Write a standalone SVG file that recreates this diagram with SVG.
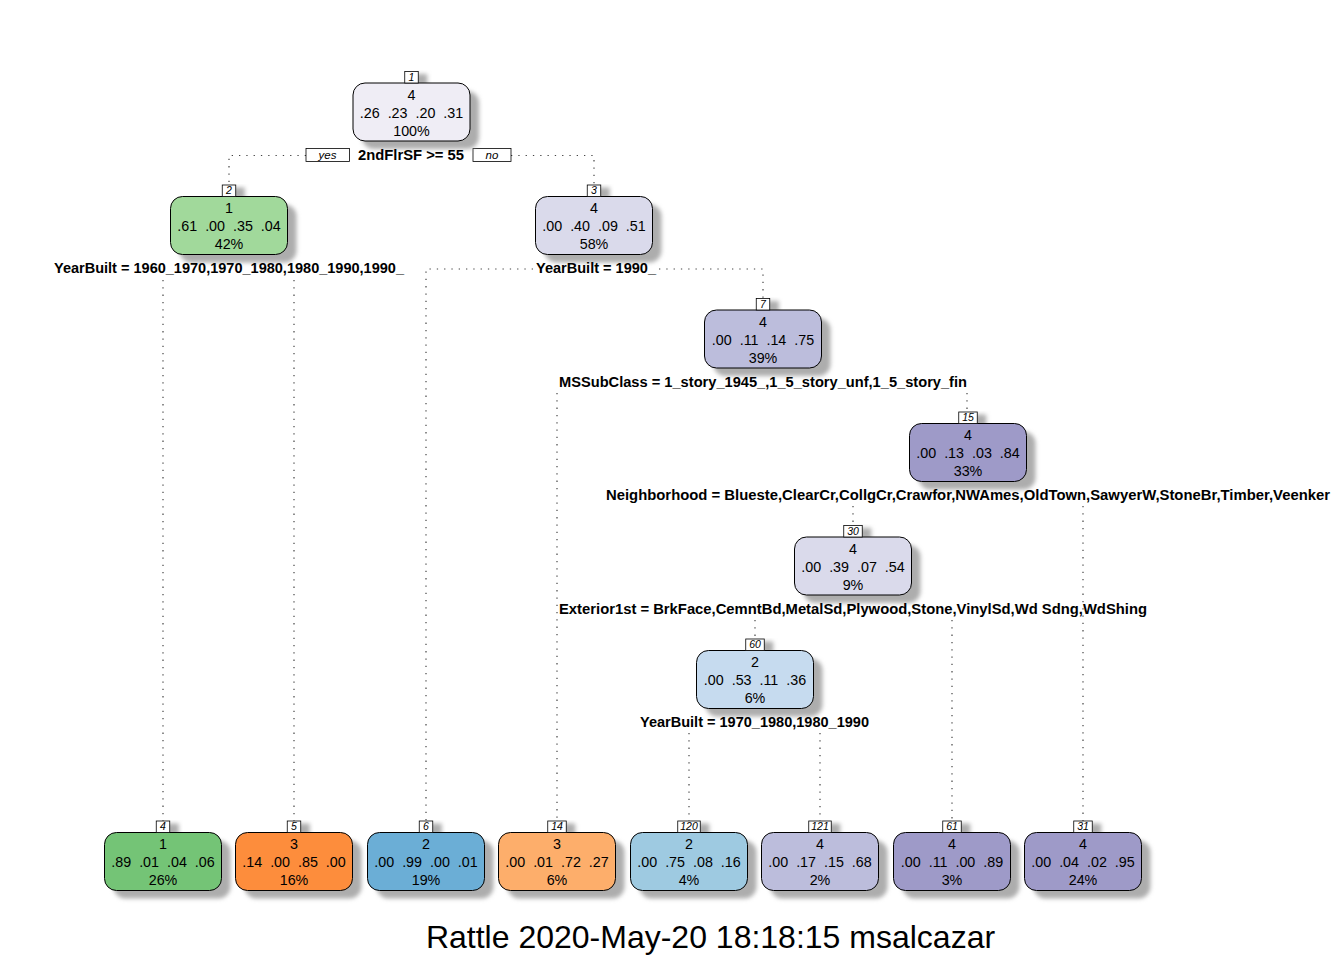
<svg xmlns="http://www.w3.org/2000/svg" width="1344" height="960" viewBox="0 0 1344 960">
<style>
.bg{fill:#ffffff}
.sh{fill:#adadad;filter:url(#blur)}
.box{stroke:#000;stroke-width:1}
.lab{fill:#fff;stroke:#000;stroke-width:0.8}
.nl{font-family:"Liberation Sans",Arial,sans-serif;font-style:italic;font-size:10.5px;text-anchor:middle;fill:#000}
.t{font-family:"Liberation Sans",Arial,sans-serif;font-size:14.3px;text-anchor:middle;fill:#000}
.split{font-family:"Liberation Sans",Arial,sans-serif;font-weight:bold;font-size:14.5px;text-anchor:middle;fill:#000}
.con{fill:none;stroke:#444;stroke-width:1.2;stroke-dasharray:1.3 6}
.yn{fill:#fff;stroke:#000;stroke-width:0.8}
.ynt{font-family:"Liberation Sans",Arial,sans-serif;font-style:italic;font-size:11.5px;text-anchor:middle;fill:#000}
.title{font-family:"Liberation Sans",Arial,sans-serif;font-size:32px;text-anchor:middle;fill:#000}
</style>
<defs>
<filter id="blur" x="-30%" y="-30%" width="160%" height="160%"><feGaussianBlur stdDeviation="2"/></filter>
</defs>
<rect class="bg" x="0" y="0" width="1344" height="960"/>
<g id="connectors">
<path class="con" d="M306,155.5 H229 V184.5"/>
<path class="con" d="M511,155.5 H594 V185"/>
<path class="con" d="M163,280 V821"/>
<path class="con" d="M294,280 V821"/>
<path class="con" d="M533,269 H426 V821"/>
<path class="con" d="M659,269 H763 V298.5"/>
<path class="con" d="M557,393 V821"/>
<path class="con" d="M967,393 V412"/>
<path class="con" d="M853,506 V525.5"/>
<path class="con" d="M1083,506 V821"/>
<path class="con" d="M755,620 V639"/>
<path class="con" d="M952,620 V821"/>
<path class="con" d="M689,733 V821"/>
<path class="con" d="M820,733 V821"/>
<rect class="yn" x="306" y="148.5" width="43.5" height="13"/>
<text class="ynt" x="327.5" y="158.5">yes</text>
<rect class="yn" x="473" y="148.5" width="38" height="13"/>
<text class="ynt" x="492" y="158.5">no</text>
</g>
<g id="node1">
<g transform="translate(411.5,83)">
<rect class="sh" x="-49.5" y="8" width="117" height="58" rx="12"/>
<rect class="sh" x="2.25" y="-9" width="13.5" height="11.5"/>
<rect class="box" x="-58.5" y="0" width="117" height="58" rx="12" fill="#EFEDF5"/>
<rect class="lab" x="-6.75" y="-11.5" width="13.5" height="11.5"/>
<text class="nl" x="0" y="-2.3">1</text>
<text class="t" x="0" y="16.5">4</text>
<text class="t" x="0" y="34.5">.26&#160;&#160;.23&#160;&#160;.20&#160;&#160;.31</text>
<text class="t" x="0" y="52.5">100%</text>
</g>
<text class="split" x="411" y="160" textLength="106" lengthAdjust="spacingAndGlyphs">2ndFlrSF &gt;= 55</text>
</g>
<g id="node2">
<g transform="translate(229,196.5)">
<rect class="sh" x="-49.5" y="8" width="117" height="58" rx="12"/>
<rect class="sh" x="2.25" y="-9" width="13.5" height="11.5"/>
<rect class="box" x="-58.5" y="0" width="117" height="58" rx="12" fill="#A1D99B"/>
<rect class="lab" x="-6.75" y="-11.5" width="13.5" height="11.5"/>
<text class="nl" x="0" y="-2.3">2</text>
<text class="t" x="0" y="16.5">1</text>
<text class="t" x="0" y="34.5">.61&#160;&#160;.00&#160;&#160;.35&#160;&#160;.04</text>
<text class="t" x="0" y="52.5">42%</text>
</g>
<text class="split" x="229" y="273" textLength="350" lengthAdjust="spacingAndGlyphs">YearBuilt = 1960_1970,1970_1980,1980_1990,1990_</text>
</g>
<g id="node3">
<g transform="translate(594,196.5)">
<rect class="sh" x="-49.5" y="8" width="117" height="58" rx="12"/>
<rect class="sh" x="2.25" y="-9" width="13.5" height="11.5"/>
<rect class="box" x="-58.5" y="0" width="117" height="58" rx="12" fill="#DADAEB"/>
<rect class="lab" x="-6.75" y="-11.5" width="13.5" height="11.5"/>
<text class="nl" x="0" y="-2.3">3</text>
<text class="t" x="0" y="16.5">4</text>
<text class="t" x="0" y="34.5">.00&#160;&#160;.40&#160;&#160;.09&#160;&#160;.51</text>
<text class="t" x="0" y="52.5">58%</text>
</g>
<text class="split" x="596" y="273" textLength="120" lengthAdjust="spacingAndGlyphs">YearBuilt = 1990_</text>
</g>
<g id="node7">
<g transform="translate(763,310)">
<rect class="sh" x="-49.5" y="8" width="117" height="58" rx="12"/>
<rect class="sh" x="2.25" y="-9" width="13.5" height="11.5"/>
<rect class="box" x="-58.5" y="0" width="117" height="58" rx="12" fill="#BCBDDC"/>
<rect class="lab" x="-6.75" y="-11.5" width="13.5" height="11.5"/>
<text class="nl" x="0" y="-2.3">7</text>
<text class="t" x="0" y="16.5">4</text>
<text class="t" x="0" y="34.5">.00&#160;&#160;.11&#160;&#160;.14&#160;&#160;.75</text>
<text class="t" x="0" y="52.5">39%</text>
</g>
<text class="split" x="763" y="386.5" textLength="408" lengthAdjust="spacingAndGlyphs">MSSubClass = 1_story_1945_,1_5_story_unf,1_5_story_fin</text>
</g>
<g id="node15">
<g transform="translate(968,423.5)">
<rect class="sh" x="-49.5" y="8" width="117" height="58" rx="12"/>
<rect class="sh" x="-0.25" y="-9" width="18.5" height="11.5"/>
<rect class="box" x="-58.5" y="0" width="117" height="58" rx="12" fill="#9E9AC8"/>
<rect class="lab" x="-9.25" y="-11.5" width="18.5" height="11.5"/>
<text class="nl" x="0" y="-2.3">15</text>
<text class="t" x="0" y="16.5">4</text>
<text class="t" x="0" y="34.5">.00&#160;&#160;.13&#160;&#160;.03&#160;&#160;.84</text>
<text class="t" x="0" y="52.5">33%</text>
</g>
<text class="split" x="968" y="500" textLength="724" lengthAdjust="spacingAndGlyphs">Neighborhood = Blueste,ClearCr,CollgCr,Crawfor,NWAmes,OldTown,SawyerW,StoneBr,Timber,Veenker</text>
</g>
<g id="node30">
<g transform="translate(853,537)">
<rect class="sh" x="-49.5" y="8" width="117" height="58" rx="12"/>
<rect class="sh" x="-0.25" y="-9" width="18.5" height="11.5"/>
<rect class="box" x="-58.5" y="0" width="117" height="58" rx="12" fill="#DADAEB"/>
<rect class="lab" x="-9.25" y="-11.5" width="18.5" height="11.5"/>
<text class="nl" x="0" y="-2.3">30</text>
<text class="t" x="0" y="16.5">4</text>
<text class="t" x="0" y="34.5">.00&#160;&#160;.39&#160;&#160;.07&#160;&#160;.54</text>
<text class="t" x="0" y="52.5">9%</text>
</g>
<text class="split" x="853" y="613.5" textLength="588" lengthAdjust="spacingAndGlyphs">Exterior1st = BrkFace,CemntBd,MetalSd,Plywood,Stone,VinylSd,Wd Sdng,WdShing</text>
</g>
<g id="node60">
<g transform="translate(755,650.5)">
<rect class="sh" x="-49.5" y="8" width="117" height="58" rx="12"/>
<rect class="sh" x="-0.25" y="-9" width="18.5" height="11.5"/>
<rect class="box" x="-58.5" y="0" width="117" height="58" rx="12" fill="#C6DBEF"/>
<rect class="lab" x="-9.25" y="-11.5" width="18.5" height="11.5"/>
<text class="nl" x="0" y="-2.3">60</text>
<text class="t" x="0" y="16.5">2</text>
<text class="t" x="0" y="34.5">.00&#160;&#160;.53&#160;&#160;.11&#160;&#160;.36</text>
<text class="t" x="0" y="52.5">6%</text>
</g>
<text class="split" x="754.5" y="727" textLength="229" lengthAdjust="spacingAndGlyphs">YearBuilt = 1970_1980,1980_1990</text>
</g>
<g id="node4" transform="translate(163,832.5)">
<rect class="sh" x="-49.5" y="8" width="117" height="58" rx="12"/>
<rect class="sh" x="2.25" y="-9" width="13.5" height="11.5"/>
<rect class="box" x="-58.5" y="0" width="117" height="58" rx="12" fill="#74C476"/>
<rect class="lab" x="-6.75" y="-11.5" width="13.5" height="11.5"/>
<text class="nl" x="0" y="-2.3">4</text>
<text class="t" x="0" y="16.5">1</text>
<text class="t" x="0" y="34.5">.89&#160;&#160;.01&#160;&#160;.04&#160;&#160;.06</text>
<text class="t" x="0" y="52.5">26%</text>
</g>
<g id="node5" transform="translate(294,832.5)">
<rect class="sh" x="-49.5" y="8" width="117" height="58" rx="12"/>
<rect class="sh" x="2.25" y="-9" width="13.5" height="11.5"/>
<rect class="box" x="-58.5" y="0" width="117" height="58" rx="12" fill="#FD8D3C"/>
<rect class="lab" x="-6.75" y="-11.5" width="13.5" height="11.5"/>
<text class="nl" x="0" y="-2.3">5</text>
<text class="t" x="0" y="16.5">3</text>
<text class="t" x="0" y="34.5">.14&#160;&#160;.00&#160;&#160;.85&#160;&#160;.00</text>
<text class="t" x="0" y="52.5">16%</text>
</g>
<g id="node6" transform="translate(426,832.5)">
<rect class="sh" x="-49.5" y="8" width="117" height="58" rx="12"/>
<rect class="sh" x="2.25" y="-9" width="13.5" height="11.5"/>
<rect class="box" x="-58.5" y="0" width="117" height="58" rx="12" fill="#6BAED6"/>
<rect class="lab" x="-6.75" y="-11.5" width="13.5" height="11.5"/>
<text class="nl" x="0" y="-2.3">6</text>
<text class="t" x="0" y="16.5">2</text>
<text class="t" x="0" y="34.5">.00&#160;&#160;.99&#160;&#160;.00&#160;&#160;.01</text>
<text class="t" x="0" y="52.5">19%</text>
</g>
<g id="node14" transform="translate(557,832.5)">
<rect class="sh" x="-49.5" y="8" width="117" height="58" rx="12"/>
<rect class="sh" x="-0.25" y="-9" width="18.5" height="11.5"/>
<rect class="box" x="-58.5" y="0" width="117" height="58" rx="12" fill="#FDAE6B"/>
<rect class="lab" x="-9.25" y="-11.5" width="18.5" height="11.5"/>
<text class="nl" x="0" y="-2.3">14</text>
<text class="t" x="0" y="16.5">3</text>
<text class="t" x="0" y="34.5">.00&#160;&#160;.01&#160;&#160;.72&#160;&#160;.27</text>
<text class="t" x="0" y="52.5">6%</text>
</g>
<g id="node120" transform="translate(689,832.5)">
<rect class="sh" x="-49.5" y="8" width="117" height="58" rx="12"/>
<rect class="sh" x="-2.25" y="-9" width="22.5" height="11.5"/>
<rect class="box" x="-58.5" y="0" width="117" height="58" rx="12" fill="#9ECAE1"/>
<rect class="lab" x="-11.25" y="-11.5" width="22.5" height="11.5"/>
<text class="nl" x="0" y="-2.3">120</text>
<text class="t" x="0" y="16.5">2</text>
<text class="t" x="0" y="34.5">.00&#160;&#160;.75&#160;&#160;.08&#160;&#160;.16</text>
<text class="t" x="0" y="52.5">4%</text>
</g>
<g id="node121" transform="translate(820,832.5)">
<rect class="sh" x="-49.5" y="8" width="117" height="58" rx="12"/>
<rect class="sh" x="-2.25" y="-9" width="22.5" height="11.5"/>
<rect class="box" x="-58.5" y="0" width="117" height="58" rx="12" fill="#BCBDDC"/>
<rect class="lab" x="-11.25" y="-11.5" width="22.5" height="11.5"/>
<text class="nl" x="0" y="-2.3">121</text>
<text class="t" x="0" y="16.5">4</text>
<text class="t" x="0" y="34.5">.00&#160;&#160;.17&#160;&#160;.15&#160;&#160;.68</text>
<text class="t" x="0" y="52.5">2%</text>
</g>
<g id="node61" transform="translate(952,832.5)">
<rect class="sh" x="-49.5" y="8" width="117" height="58" rx="12"/>
<rect class="sh" x="-0.25" y="-9" width="18.5" height="11.5"/>
<rect class="box" x="-58.5" y="0" width="117" height="58" rx="12" fill="#9E9AC8"/>
<rect class="lab" x="-9.25" y="-11.5" width="18.5" height="11.5"/>
<text class="nl" x="0" y="-2.3">61</text>
<text class="t" x="0" y="16.5">4</text>
<text class="t" x="0" y="34.5">.00&#160;&#160;.11&#160;&#160;.00&#160;&#160;.89</text>
<text class="t" x="0" y="52.5">3%</text>
</g>
<g id="node31" transform="translate(1083,832.5)">
<rect class="sh" x="-49.5" y="8" width="117" height="58" rx="12"/>
<rect class="sh" x="-0.25" y="-9" width="18.5" height="11.5"/>
<rect class="box" x="-58.5" y="0" width="117" height="58" rx="12" fill="#9E9AC8"/>
<rect class="lab" x="-9.25" y="-11.5" width="18.5" height="11.5"/>
<text class="nl" x="0" y="-2.3">31</text>
<text class="t" x="0" y="16.5">4</text>
<text class="t" x="0" y="34.5">.00&#160;&#160;.04&#160;&#160;.02&#160;&#160;.95</text>
<text class="t" x="0" y="52.5">24%</text>
</g>
<text class="title" x="710.5" y="948">Rattle 2020-May-20 18:18:15 msalcazar</text>
</svg>
